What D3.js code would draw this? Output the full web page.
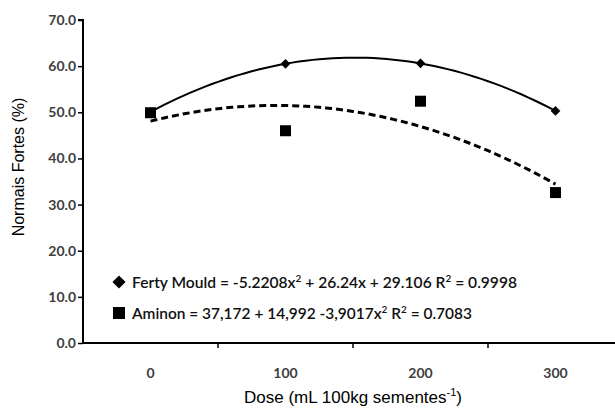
<!DOCTYPE html>
<html>
<head>
<meta charset="utf-8">
<script src="https://cdn.jsdelivr.net/npm/d3@7"></script>
<style>
  body { margin: 0; background: #fff; }
  svg { display: block; }
</style>
</head>
<body>
<svg id="chart" width="615" height="408"></svg>
<script>
// doses on the x axis (categories)
const doses = ["0", "100", "200", "300"];
// observed values, Normais Fortes (%)
const fertyMould = [50.1, 60.5, 60.6, 50.3];
const aminon = [49.9, 46.0, 52.4, 32.6];
const yTicks = [0, 10, 20, 30, 40, 50, 60, 70];

const svg = d3.select("#chart");
const tickFont = "Lato, 'Open Sans', sans-serif";

const x = d3.scaleBand().domain(doses).range([83, 623]);
const y = d3.scaleLinear().domain([0, 70]).range([343, 20]);
const cx = d => x(d) + x.bandwidth() / 2;

// continuous position for the fitted curves (x = 1..4)
const xc = d3.scaleLinear().domain([1, doses.length]).range([cx(doses[0]), cx(doses[doses.length - 1])]);

// least squares quadratic fit: y = a + b*x + c*x^2
function quadFit(ys) {
  let s = [0, 0, 0, 0, 0], t = [0, 0, 0];
  ys.forEach((v, i) => {
    let xi = i + 1;
    for (let k = 0; k < 5; k++) s[k] += Math.pow(xi, k);
    for (let k = 0; k < 3; k++) t[k] += v * Math.pow(xi, k);
  });
  let m = [[s[0], s[1], s[2], t[0]], [s[1], s[2], s[3], t[1]], [s[2], s[3], s[4], t[2]]];
  // gauss elimination
  for (let i = 0; i < 3; i++) {
    for (let j = i + 1; j < 3; j++) {
      let f = m[j][i] / m[i][i];
      for (let k = i; k < 4; k++) m[j][k] -= f * m[i][k];
    }
  }
  let c = [0, 0, 0];
  for (let i = 2; i >= 0; i--) {
    let sum = m[i][3];
    for (let k = i + 1; k < 3; k++) sum -= m[i][k] * c[k];
    c[i] = sum / m[i][i];
  }
  return xv => c[0] + c[1] * xv + c[2] * xv * xv;
}

// axes
const yAxis = svg.append("g")
  .attr("transform", "translate(83,0)")
  .call(d3.axisLeft(y).tickValues(yTicks).tickSize(5).tickFormat(d3.format(".1f")));
const xAxis = svg.append("g")
  .attr("transform", "translate(0,343)")
  .call(d3.axisBottom(x).tickSize(0).tickPadding(25));

svg.selectAll(".domain").attr("stroke", "#000").attr("stroke-width", 2);
yAxis.select(".domain").attr("d", "M-5,20H0V343");
xAxis.select(".domain").attr("d", "M83,0H623");
yAxis.selectAll(".tick line").attr("stroke", "#000").attr("stroke-width", 1.5);
yAxis.selectAll(".tick text")
  .attr("x", -7)
  .attr("font-family", tickFont).attr("font-size", 14).attr("font-weight", "bold").attr("fill", "#404040");
xAxis.selectAll(".tick text")
  .attr("font-family", tickFont).attr("font-size", 14).attr("font-weight", "bold").attr("fill", "#404040");

// tick marks between categories
xAxis.selectAll(".sep")
  .data(doses.slice(1))
  .join("line")
  .attr("x1", d => x(d)).attr("x2", d => x(d))
  .attr("y1", 0).attr("y2", 5)
  .attr("stroke", "#000").attr("stroke-width", 1.5);

// titles
svg.append("text")
  .attr("transform", "translate(24,167) rotate(-90)")
  .attr("text-anchor", "middle")
  .attr("font-family", "'Liberation Sans', Arial, sans-serif")
  .attr("font-size", 16)
  .text("Normais Fortes (%)");

const xt = svg.append("text")
  .attr("x", 353).attr("y", 403)
  .attr("text-anchor", "middle")
  .attr("font-family", "'Liberation Sans', Arial, sans-serif")
  .attr("font-size", 17);
xt.append("tspan").text("Dose (mL 100kg sementes");
xt.append("tspan").attr("font-size", 11).attr("dy", -7).text("-1");
xt.append("tspan").attr("dy", 7).text(")");

// fitted curves
const samples = d3.range(1, 4.001, 0.05);
const line = f => d3.line().x(v => xc(v)).y(v => y(f(v)))(samples);

svg.append("path")
  .attr("d", line(quadFit(fertyMould)))
  .attr("fill", "none").attr("stroke", "#000").attr("stroke-width", 2);

svg.append("path")
  .attr("d", line(quadFit(aminon)))
  .attr("fill", "none").attr("stroke", "#000").attr("stroke-width", 3)
  .attr("stroke-dasharray", "7,4");

// markers
const diamond = d3.symbol().type(d3.symbolDiamond2);
svg.selectAll(".fm")
  .data(fertyMould)
  .join("path")
  .attr("d", diamond.size(60)())
  .attr("transform", (d, i) => `translate(${cx(doses[i])},${y(d)})`)
  .attr("fill", "#000");

svg.selectAll(".am")
  .data(aminon)
  .join("rect")
  .attr("x", (d, i) => cx(doses[i]) - 5.5)
  .attr("y", d => y(d) - 5.5)
  .attr("width", 11).attr("height", 11)
  .attr("fill", "#000");

// legend
const legFont = "Lato, 'Open Sans', sans-serif";
svg.append("path")
  .attr("d", d3.symbol().type(d3.symbolDiamond2).size(110)())
  .attr("transform", "translate(119,282)");
svg.append("rect").attr("x", 113).attr("y", 307).attr("width", 12).attr("height", 12);

function legendLine(yy, parts, len) {
  const t = svg.append("text")
    .attr("x", 132).attr("y", yy)
    .attr("font-family", legFont).attr("font-size", 15.5).attr("font-weight", 600)
    .attr("fill", "#111")
    .attr("textLength", len).attr("lengthAdjust", "spacingAndGlyphs");
  let back = 0;
  parts.forEach(p => {
    if (typeof p === "string") {
      t.append("tspan").attr("dy", back).text(p);
      back = 0;
    } else {
      t.append("tspan").attr("font-size", 10).attr("dy", -6).text(p.up);
      back = 6;
    }
  });
  return t;
}
legendLine(288, ["Ferty Mould  = -5.2208x", {up: "2"}, " + 26.24x + 29.106 R", {up: "2"}, " = 0.9998"], 385);
legendLine(319, ["Aminon = 37,172 + 14,992 -3,9017x", {up: "2"}, " R", {up: "2"}, " = 0.7083"], 340);
</script>
</body>
</html>
